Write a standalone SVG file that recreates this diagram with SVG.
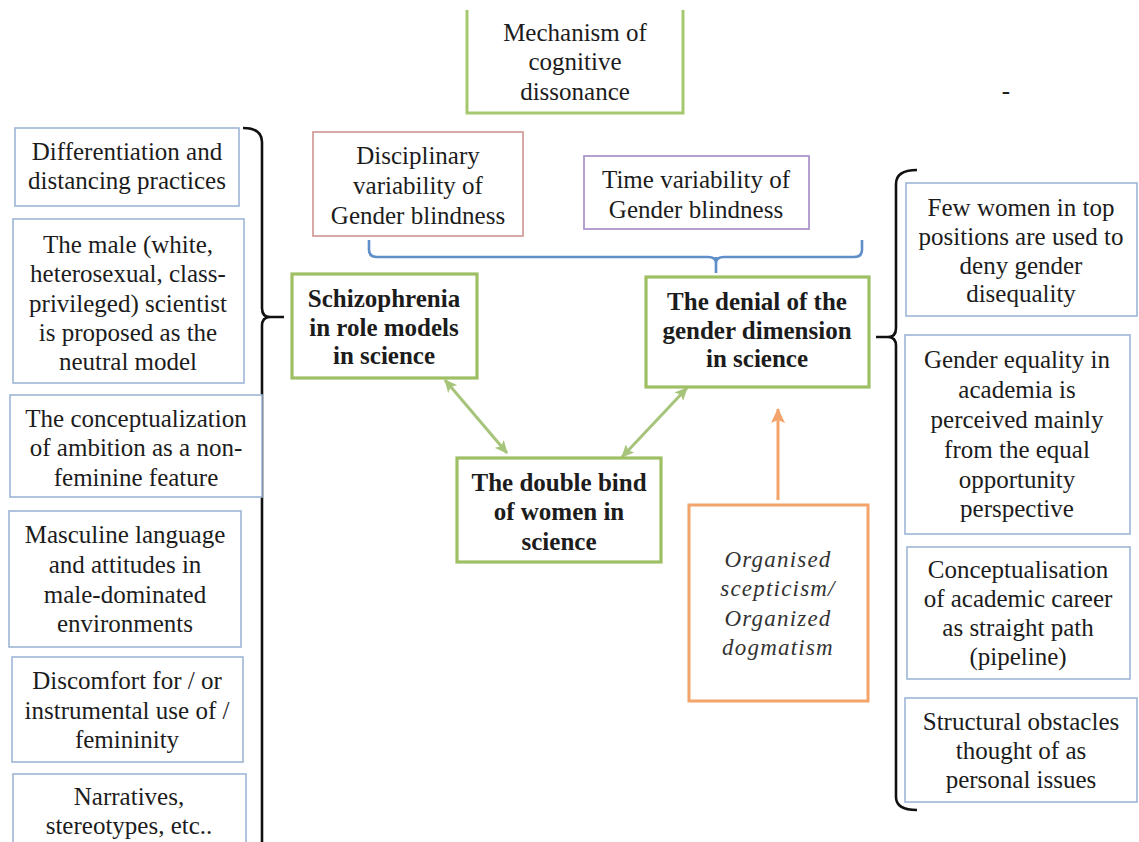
<svg xmlns="http://www.w3.org/2000/svg" width="1139" height="842" viewBox="0 0 1139 842">
  <style>
    text { font-size: 25px; fill: #1c1c1c; text-anchor: middle; }
    .b { font-weight: bold; }
    .it { font-style: italic; font-size: 23px; letter-spacing: 1.2px; fill: #333; }
    .blue { fill: #fff; stroke: #9db6d6; stroke-width: 1.6; }
    .green { fill: #fff; stroke: #9fbf64; stroke-width: 3.2; }
    .brace { fill: none; stroke: #111; stroke-width: 2.6; }
  </style>
  <defs>
    <marker id="gh" markerUnits="userSpaceOnUse" markerWidth="14" markerHeight="12" refX="12" refY="6" orient="auto-start-reverse">
      <path d="M0,0 L13,6 L0,12 L3,6 z" fill="#a6c47a"/>
    </marker>
    <marker id="oh" markerUnits="userSpaceOnUse" markerWidth="16" markerHeight="14" refX="14" refY="7" orient="auto">
      <path d="M0,0 L15,7 L0,14 L3,7 z" fill="#f2a46a"/>
    </marker>
  </defs>
  <rect width="1139" height="842" fill="#fff"/>

  <!-- connectors -->
  <g id="connectors">
    <path class="brace" d="M243,128 Q262,128 262,142 L262,308 Q262,317 270,317 Q262,317 262,326 L262,850 M270,317 L284,317"/>
    <path class="brace" d="M917,170 Q896,170 896,184 L896,328 Q896,337 888,337 Q896,337 896,346 L896,797 Q896,810 917,810 M888,337 L876,337"/>
    <path d="M369,240 L369,250 Q369,257 377,257 L708,257 Q716,257 716,263 Q716,257 724,257 L854,257 Q862,257 862,250 L862,240 M716,257 L716,273" fill="none" stroke="#5f8ec8" stroke-width="2.6"/>
    <line x1="445" y1="380" x2="507" y2="453" stroke="#a6c47a" stroke-width="3" marker-start="url(#gh)" marker-end="url(#gh)"/>
    <line x1="687" y1="388" x2="622" y2="457" stroke="#a6c47a" stroke-width="3" marker-start="url(#gh)" marker-end="url(#gh)"/>
    <line x1="778" y1="500" x2="778" y2="409" stroke="#f2a46a" stroke-width="3" marker-end="url(#oh)"/>
  </g>

  <g font-family="Liberation Serif">
  <!-- top -->
  <g id="mechanism">
    <path d="M467,10 L467,113 L683,113 L683,10" fill="#fff" stroke="#a5c76e" stroke-width="3"/>
    <text x="575" y="41">Mechanism of</text>
    <text x="575" y="70">cognitive</text>
    <text x="575" y="100">dissonance</text>
  </g>
  <g id="disciplinary">
    <rect x="313" y="132" width="210" height="104" fill="#fff" stroke="#d5a09e" stroke-width="1.8"/>
    <text x="418" y="164">Disciplinary</text>
    <text x="418" y="194">variability of</text>
    <text x="418" y="224">Gender blindness</text>
  </g>
  <g id="time">
    <rect x="584" y="156" width="225" height="73" fill="#fff" stroke="#ad97cc" stroke-width="1.8"/>
    <text x="696" y="188">Time variability of</text>
    <text x="696" y="218">Gender blindness</text>
  </g>
  <text x="1006" y="99">-</text>

  <!-- central green nodes -->
  <g id="schizophrenia">
    <rect class="green" x="292" y="274" width="185" height="104"/>
    <text class="b" x="384" y="307">Schizophrenia</text>
    <text class="b" x="384" y="336">in role models</text>
    <text class="b" x="384" y="364">in science</text>
  </g>
  <g id="denial">
    <rect class="green" x="646" y="277" width="223" height="110"/>
    <text class="b" x="757" y="310">The denial of the</text>
    <text class="b" x="757" y="339">gender dimension</text>
    <text class="b" x="757" y="367">in science</text>
  </g>
  <g id="doublebind">
    <rect class="green" x="457" y="458" width="204" height="104"/>
    <text class="b" x="559" y="491">The double bind</text>
    <text class="b" x="559" y="520">of women in</text>
    <text class="b" x="559" y="550">science</text>
  </g>
  <g id="organised">
    <rect x="689" y="505" width="179" height="196" fill="#fff" stroke="#f2a46a" stroke-width="3"/>
    <text class="it" x="778" y="567">Organised</text>
    <text class="it" x="778" y="596">scepticism/</text>
    <text class="it" x="778" y="626">Organized</text>
    <text class="it" x="778" y="655">dogmatism</text>
  </g>

  <!-- left column -->
  <g id="left1">
    <rect class="blue" x="15" y="128" width="224" height="78"/>
    <text x="127" y="160">Differentiation and</text>
    <text x="127" y="189">distancing practices</text>
  </g>
  <g id="left2">
    <rect class="blue" x="13" y="219" width="231" height="164"/>
    <text x="128" y="253">The male (white,</text>
    <text x="128" y="282">heterosexual, class-</text>
    <text x="128" y="312">privileged) scientist</text>
    <text x="128" y="341">is proposed as the</text>
    <text x="128" y="370">neutral model</text>
  </g>
  <g id="left3">
    <rect class="blue" x="10" y="395" width="252" height="102"/>
    <text x="136" y="427">The conceptualization</text>
    <text x="136" y="456">of ambition as a non-</text>
    <text x="136" y="486">feminine feature</text>
  </g>
  <g id="left4">
    <rect class="blue" x="9" y="511" width="232" height="136"/>
    <text x="125" y="543">Masculine language</text>
    <text x="125" y="573">and attitudes in</text>
    <text x="125" y="603">male-dominated</text>
    <text x="125" y="632">environments</text>
  </g>
  <g id="left5">
    <rect class="blue" x="12" y="657" width="231" height="105"/>
    <text x="127" y="689">Discomfort for / or</text>
    <text x="127" y="719">instrumental use of /</text>
    <text x="127" y="748">femininity</text>
  </g>
  <g id="left6">
    <rect class="blue" x="13" y="774" width="233" height="90"/>
    <text x="129" y="805">Narratives,</text>
    <text x="129" y="834">stereotypes, etc..</text>
  </g>

  <!-- right column -->
  <g id="right1">
    <rect class="blue" x="906" y="183" width="231" height="133"/>
    <text x="1021" y="216">Few women in top</text>
    <text x="1021" y="245">positions are used to</text>
    <text x="1021" y="274">deny gender</text>
    <text x="1021" y="302">disequality</text>
  </g>
  <g id="right2">
    <rect class="blue" x="905" y="335" width="225" height="199"/>
    <text x="1017" y="368">Gender equality in</text>
    <text x="1017" y="398">academia is</text>
    <text x="1017" y="428">perceived mainly</text>
    <text x="1017" y="458">from the equal</text>
    <text x="1017" y="488">opportunity</text>
    <text x="1017" y="517">perspective</text>
  </g>
  <g id="right3">
    <rect class="blue" x="907" y="547" width="223" height="132"/>
    <text x="1018" y="578">Conceptualisation</text>
    <text x="1018" y="607">of academic career</text>
    <text x="1018" y="636">as straight path</text>
    <text x="1018" y="665">(pipeline)</text>
  </g>
  <g id="right4">
    <rect class="blue" x="905" y="698" width="232" height="104"/>
    <text x="1021" y="730">Structural obstacles</text>
    <text x="1021" y="759">thought of as</text>
    <text x="1021" y="788">personal issues</text>
  </g>
  </g>
</svg>
